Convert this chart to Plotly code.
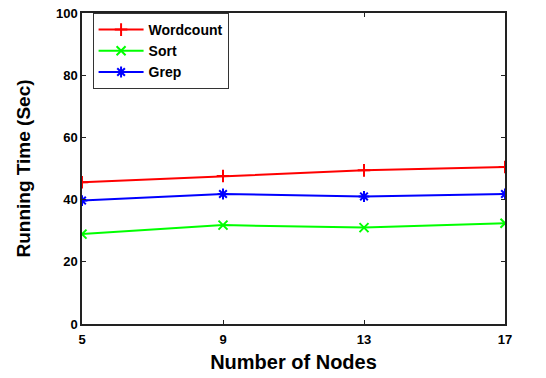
import plotly.graph_objects as go

nodes = [5, 9, 13, 17]
wordcount = [45.6, 47.6, 49.4, 50.5]
sort_t = [28.9, 31.8, 31.0, 32.4]
grep = [39.7, 41.8, 41.0, 41.8]

fig = go.Figure()
series = [
    ("Wordcount", wordcount, "#ff0000", "cross-thin-open"),
    ("Sort", sort_t, "#00ff00", "x-thin-open"),
    ("Grep", grep, "#0000ff", "asterisk-open"),
]
for name, vals, col, sym in series:
    fig.add_trace(go.Scatter(
        x=nodes, y=vals, name=name, mode="lines+markers",
        line=dict(color=col, width=2),
        marker=dict(symbol=sym, size=9, color=col, line=dict(color=col, width=2)),
    ))

font = "Liberation Sans, Arial, sans-serif"
fig.update_layout(
    width=546, height=378,
    margin=dict(l=82, r=41, t=13, b=54),
    plot_bgcolor="white", paper_bgcolor="white",
    font=dict(family=font, color="black"),
    showlegend=True,
    legend=dict(
        x=0.025, y=1.0, xanchor="left", yanchor="top",
        bgcolor="white", bordercolor="#333333", borderwidth=1,
        font=dict(size=14, family=font, weight="bold"),
        tracegroupgap=0, itemwidth=45,
    ),
    xaxis=dict(
        range=[5, 17], tickvals=nodes, ticktext=[str(n) for n in nodes],
        showgrid=False, zeroline=False, automargin=False,
        showline=True, linecolor="#222222", linewidth=1.5, mirror="ticks",
        ticks="inside", ticklen=4, tickcolor="#222222",
        ticklabelstandoff=3, ticklabeloverflow="allow",
        tickfont=dict(size=13, family=font, weight="bold"),
        title=dict(text="Number of Nodes", font=dict(size=20, family=font, weight="bold"), standoff=9),
    ),
    yaxis=dict(
        range=[0, 100], tickvals=[0, 20, 40, 60, 80, 100],
        showgrid=False, zeroline=False, automargin=False,
        showline=True, linecolor="#222222", linewidth=1.5, mirror="ticks",
        ticks="inside", ticklen=4, tickcolor="#222222",
        ticklabeloverflow="allow",
        tickfont=dict(size=13, family=font, weight="bold"),
        title=dict(text="Running Time (Sec)", font=dict(size=19, family=font, weight="bold"), standoff=20),
    ),
)
fig.write_html(
    "out.html",
    config={"displayModeBar": False},
    post_script="document.body.style.margin='0';document.body.style.overflow='hidden';",
)
